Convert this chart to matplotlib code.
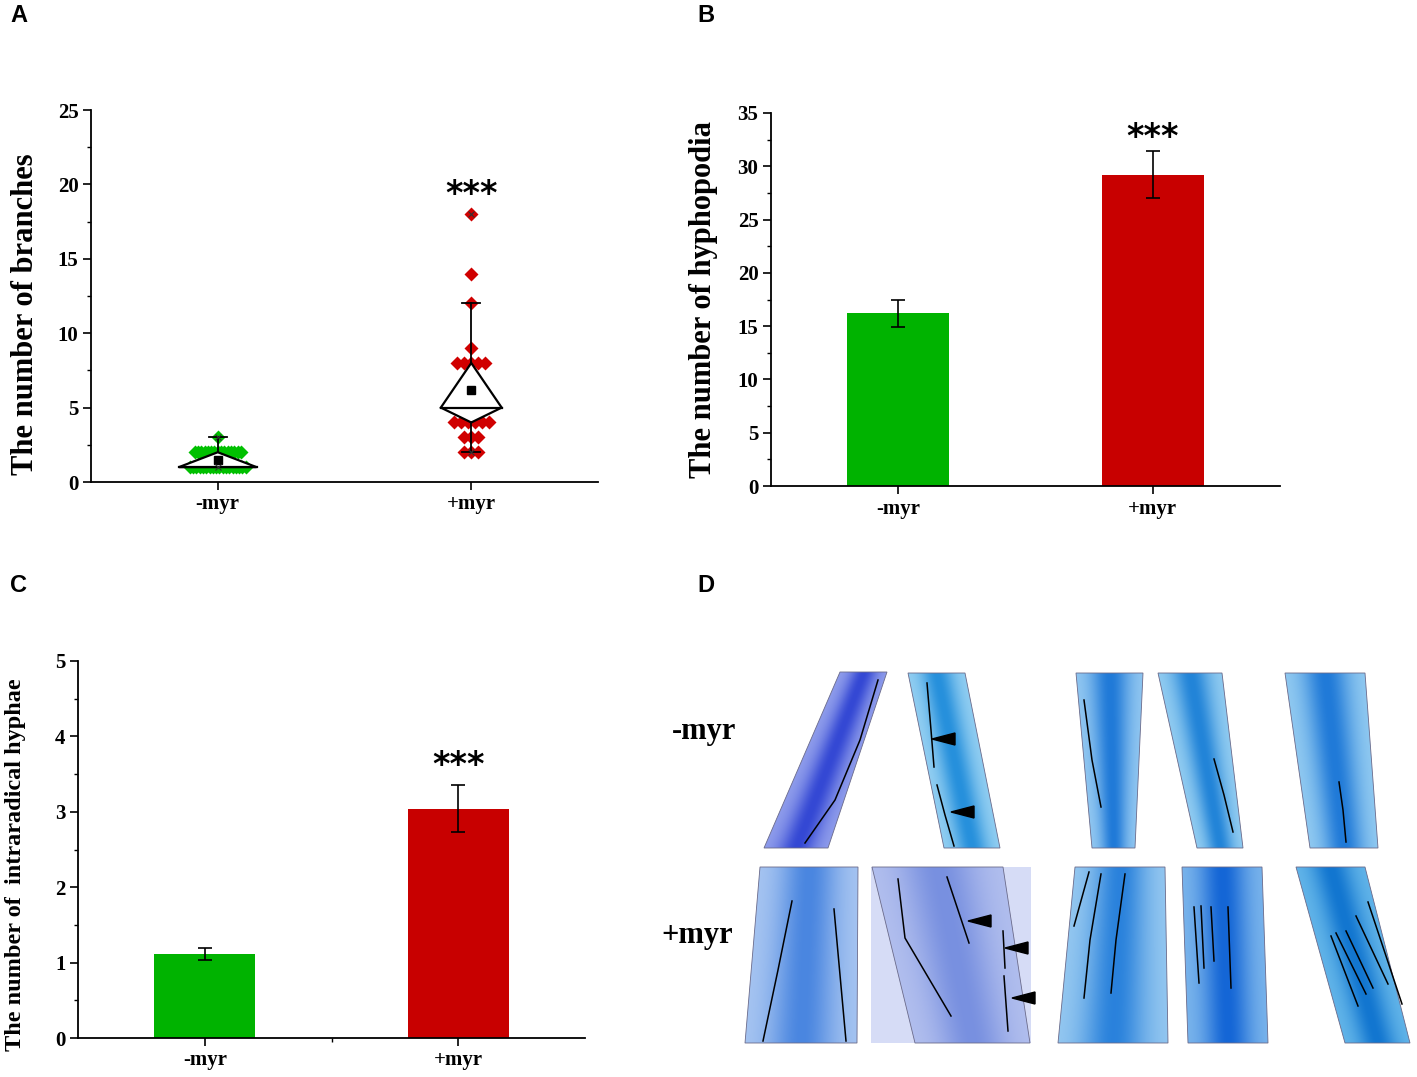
import numpy as np
import matplotlib
matplotlib.use('Agg')
import matplotlib.pyplot as plt
from matplotlib.patches import Polygon, Rectangle
from matplotlib.colors import LinearSegmentedColormap

plt.rcParams['font.family'] = ['Liberation Serif', 'DejaVu Serif']
plt.rcParams['font.weight'] = 'bold'
plt.rcParams['axes.linewidth'] = 1.3

W, H = 1417, 1077

#%% data
groups = ['-myr', '+myr']
bar_colors = ['#00b300', '#c80000']
point_colors = ['#00c000', '#d00000']

# A - branches per hypha (raw counts)
branches_minus = [1]*18 + [2]*15 + [3]
branches_plus = [2, 2, 2, 3, 3, 3, 4, 4, 4, 4, 4, 4, 5, 5, 5, 7, 8, 8, 8, 8, 8, 9, 12, 14, 18]
# box stats: q1, median, q3, whisker low, whisker high
box_q1 = [1, 4]
box_med = [1, 5]
box_q3 = [2, 8]
whisk_lo = [1, 2]
whisk_hi = [3, 12]

# B - hyphopodia
hypho_mean = [16.2, 29.2]
hypho_err = [1.3, 2.2]

# C - intraradical hyphae
intra_mean = [1.12, 3.04]
intra_err = [0.08, 0.31]


def px_axes(left, top, right, bottom):
    return fig.add_axes([left / W, 1 - bottom / H, (right - left) / W, (bottom - top) / H])


def style(ax, ymax, ystep, minor_x=False):
    ax.set_xlim(0.5, 2.5)
    ax.set_ylim(0, ymax)
    ax.spines['top'].set_visible(False)
    ax.spines['right'].set_visible(False)
    ax.set_xticks([1, 2])
    ax.set_xticklabels(groups, fontsize=15.5, fontweight='bold')
    ax.set_yticks(np.arange(0, ymax + 0.01, ystep))
    ax.set_yticks(np.arange(ystep / 2, ymax, ystep), minor=True)
    if minor_x:
        ax.set_xticks([1.5], minor=True)
    ax.tick_params(direction='out', length=6, width=1.2, labelsize=15, pad=3)
    ax.tick_params(which='minor', direction='out', length=3, width=1.0)
    for lab in ax.get_yticklabels():
        lab.set_fontweight('bold')


fig = plt.figure(figsize=(W / 100, H / 100), dpi=100)

#%% A
axA = px_axes(91, 110, 598, 482)
style(axA, 25, 5)
half_w = [0.153, 0.12]
spacing = [0.013, 0.028]
for i, vals in enumerate([branches_minus, branches_plus]):
    x0 = i + 1
    vals = np.array(vals)
    xs, ys = [], []
    for v in np.unique(vals):
        n = np.sum(vals == v)
        off = (np.arange(n) - (n - 1) / 2) * spacing[i]
        xs.extend(x0 + off)
        ys.extend([v] * n)
    axA.plot(xs, ys, 'D', color=point_colors[i], ms=7, mec='none', zorder=2)
    hw = half_w[i]
    dia = Polygon([(x0, box_q3[i]), (x0 + hw, box_med[i]), (x0, box_q1[i]), (x0 - hw, box_med[i])],
                  closed=True, fc='white', ec='black', lw=1.6, zorder=3)
    axA.add_patch(dia)
    axA.plot([x0 - hw, x0 + hw], [box_med[i]] * 2, color='black', lw=1.6, zorder=4)
    axA.plot([x0, x0], [box_q3[i], whisk_hi[i]], color='black', lw=1.3, zorder=4)
    axA.plot([x0, x0], [box_q1[i], whisk_lo[i]], color='black', lw=1.3, zorder=4)
    for w in (whisk_lo[i], whisk_hi[i]):
        axA.plot([x0 - 0.035, x0 + 0.035], [w, w], color='black', lw=1.3, zorder=4)
    axA.plot(x0, vals.mean(), 's', color='black', ms=5.5, zorder=5)
    axA.plot([x0, x0], [vals.min(), vals.max()], 'x', color='#333333', ms=5, mew=0.8, zorder=5)
axA.text(2, 19.3, '***', ha='center', va='center', fontsize=24, fontweight='bold',
         family=['DejaVu Sans'])
axA.set_ylabel('The number of branches', fontsize=22, fontweight='bold')
axA.yaxis.set_label_coords(-0.10, 0.45)

#%% B
axB = px_axes(771, 113, 1280, 486)
style(axB, 35, 5)
axB.bar([1, 2], hypho_mean, width=0.4, color=bar_colors, yerr=hypho_err,
        error_kw=dict(ecolor='black', elinewidth=1.2, capsize=5, capthick=1.2))
axB.text(2, 32.7, '***', ha='center', va='center', fontsize=24, fontweight='bold',
         family=['DejaVu Sans'])
axB.set_ylabel('The number of hyphopodia', fontsize=22, fontweight='bold')
axB.yaxis.set_label_coords(-0.105, 0.50)

#%% C
axC = px_axes(78, 661, 585, 1038)
style(axC, 5, 1, minor_x=True)
axC.bar([1, 2], intra_mean, width=0.4, color=bar_colors, yerr=intra_err,
        error_kw=dict(ecolor='black', elinewidth=1.2, capsize=5, capthick=1.2))
axC.text(2, 3.62, '***', ha='center', va='center', fontsize=24, fontweight='bold',
         family=['DejaVu Sans'])
axC.set_ylabel('The number of  intraradical hyphae', fontsize=17.5, fontweight='bold')
axC.yaxis.set_label_coords(-0.103, 0.46)

#%% D - stained roots (drawn sketch of the micrographs)
axD = px_axes(740, 660, 1417, 1050)
axD.set_xlim(740, 1417)
axD.set_ylim(1050, 660)
axD.axis('off')

roots = [
    # corners TL, TR, BR, BL ; light colour ; dark colour
    ([(840, 672), (887, 672), (828, 848), (764, 848)], '#a8b4f2', '#3448d4'),
    ([(908, 673), (965, 673), (1000, 848), (944, 848)], '#b0e0f8', '#2690dc'),
    ([(1076, 673), (1143, 673), (1135, 848), (1092, 848)], '#b0dcf8', '#207ad8'),
    ([(1158, 673), (1222, 673), (1243, 848), (1197, 848)], '#b0e0f8', '#2284d8'),
    ([(1285, 673), (1365, 673), (1378, 848), (1310, 848)], '#b0e0f8', '#207ad8'),
    ([(760, 867), (858, 867), (857, 1043), (745, 1043)], '#c0d6f6', '#4a86e0'),
    ([(872, 867), (1003, 867), (1030, 1043), (915, 1043)], '#c2ccf2', '#7890e0'),
    ([(1075, 867), (1165, 867), (1168, 1043), (1058, 1043)], '#b2dbf6', '#2a82dc'),
    ([(1182, 867), (1262, 867), (1268, 1043), (1188, 1043)], '#96caf2', '#1466d6'),
    ([(1296, 867), (1365, 867), (1410, 1043), (1345, 1043)], '#78c6f0', '#1276d0'),
]

hyphae = [
    [(878, 680), (860, 740), (835, 800), (805, 843)],
    [(927, 683), (931, 730), (934, 767)],
    [(937, 785), (945, 815), (954, 846)],
    [(1084, 700), (1092, 760), (1101, 807)],
    [(1214, 759), (1224, 795), (1233, 832)],
    [(1339, 782), (1343, 810), (1346, 842)],
    [(792, 901), (778, 970), (763, 1041)],
    [(834, 909), (840, 975), (846, 1041)],
    [(898, 879), (905, 938), (951, 1016)],
    [(947, 877), (969, 943)],
    [(1003, 931), (1005, 968)],
    [(1004, 976), (1008, 1031)],
    [(1089, 872), (1074, 926)],
    [(1101, 874), (1090, 940), (1084, 998)],
    [(1125, 874), (1116, 940), (1111, 993)],
    [(1194, 907), (1199, 983)],
    [(1201, 906), (1204, 968)],
    [(1211, 907), (1214, 961)],
    [(1228, 907), (1231, 988)],
    [(1331, 936), (1358, 1006)],
    [(1336, 933), (1366, 994)],
    [(1346, 931), (1373, 988)],
    [(1356, 916), (1388, 984)],
    [(1368, 902), (1402, 1004)],
]

arrows = [(932, 739), (951, 812), (968, 921), (1005, 948), (1012, 998)]

# lavender background of the second +myr micrograph
axD.add_patch(Rectangle((871, 867), 160, 176, fc='#d6dcf6', ec='none', zorder=0))

gx, gy = np.meshgrid(np.arange(740, 1417), np.arange(660, 1050))
for corners, light, dark in roots:
    cmap = LinearSegmentedColormap.from_list('r', [light, dark])
    (tlx, tly), (trx, _), (brx, bry), (blx, _) = corners
    s = np.clip((gy - tly) / (bry - tly), 0, 1)
    cx = (tlx + trx) / 2 * (1 - s) + (blx + brx) / 2 * s
    hw = (trx - tlx) / 2 * (1 - s) + (brx - blx) / 2 * s
    u = (gx - cx) / hw
    val = 0.2 + 0.8 * np.exp(-3.0 * u ** 2)
    patch = Polygon(corners, closed=True, fc='none', ec='#6a6a8a', lw=0.6, zorder=2)
    axD.add_patch(patch)
    im = axD.imshow(val, extent=(740, 1417, 1050, 660), cmap=cmap, vmin=0, vmax=1,
                    aspect='auto', zorder=1, interpolation='bilinear')
    im.set_clip_path(patch)

for line in hyphae:
    xs, ys = zip(*line)
    axD.plot(xs, ys, color='black', lw=1.1, zorder=3)

for tx, ty in arrows:
    axD.add_patch(Polygon([(tx, ty), (tx + 23, ty - 6), (tx + 23, ty + 6)], closed=True,
                          fc='black', ec='black', zorder=4))

fig.text(672 / W, 1 - 732 / H, '-myr', fontsize=22, fontweight='bold', va='center', ha='left')
fig.text(661 / W, 1 - 936 / H, '+myr', fontsize=22, fontweight='bold', va='center', ha='left')

#%% panel letters
for lab, x, y in [('A', 10, 16), ('B', 697, 16), ('C', 10, 585), ('D', 697, 585)]:
    fig.text(x / W, 1 - y / H, lab, fontsize=17, fontweight='bold', family=['Liberation Sans'],
             va='center', ha='left')

fig.savefig('out.png', dpi=100)
